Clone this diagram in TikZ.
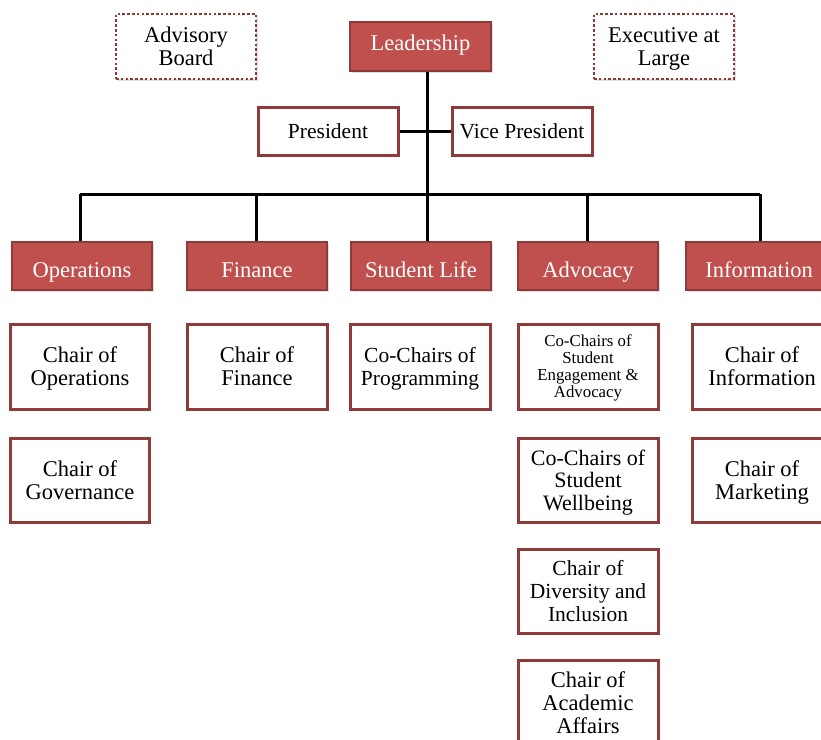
\documentclass[tikz,border=0pt]{standalone}
\usepackage{fontspec}
\setmainfont{Liberation Serif}
\usetikzlibrary{shadows}
\definecolor{boxred}{HTML}{C0504D}
\definecolor{edgered}{HTML}{8E3A38}
\newcommand{\shiftdn}[2]{\raisebox{#1}{#2}}
\begin{document}
\begin{tikzpicture}[x=1pt,y=-1pt,
  base/.style={rectangle, inner sep=0pt, align=center,
    drop shadow={opacity=0.25, shadow xshift=1.5pt, shadow yshift=-2pt},
    font=\fontsize{22.5}{23}\selectfont},
  head/.style={base, fill=boxred, draw=edgered, line width=2.6pt, text=white,
    minimum width=140pt, minimum height=48pt, text height=15pt, text depth=0pt},
  officer/.style={head, fill=white, text=black, line width=3pt,
    font=\fontsize{21.5}{23}\selectfont},
  role/.style={base, fill=white, draw=edgered, line width=3pt,
    minimum width=140pt, minimum height=85pt, text depth=0pt},
  dotbox/.style={base, fill=white, draw=edgered, line width=2.6pt,
    dash pattern=on 2.6pt off 2.2pt,
    minimum width=140pt, minimum height=65pt, text depth=0pt},
  small/.style={font=\fontsize{16.8}{17}\selectfont},
  narrow/.style={font=\fontsize{21.5}{23}\selectfont},
  link/.style={draw=black, line width=3pt}]
\clip (0,0) rectangle (821,739);
\useasboundingbox (0,0) rectangle (821,739);
\fill[white] (0,0) rectangle (821,739);

% top row
\node[dotbox] (adv) at (186,46.5) {Advisory\\Board};
\node[head, minimum width=141pt, minimum height=49pt] (lead) at (420.5,46.5) {\shiftdn{4pt}{Leadership}};
\node[dotbox] (exec) at (664,46.5) {Executive at\\Large};

% trunk coordinates
\coordinate (trunk) at (427,194);
\coordinate (b1) at (80,194);
\coordinate (b2) at (256,194);
\coordinate (b4) at (587,194);
\coordinate (b5) at (760,194);

% officers
\node[officer] (pres) at (328,131) {President};
\node[officer] (vp) at (522,131) {Vice President};

% departments
\node[head] (ops) at (82,266) {\shiftdn{-3.5pt}{Operations}};
\node[head] (fin) at (257,266) {\shiftdn{-3.5pt}{Finance}};
\node[head] (sl) at (421,266) {\shiftdn{-3.5pt}{Student Life}};
\node[head] (advo) at (588,266) {\shiftdn{-3.5pt}{Advocacy}};
\node[head, minimum width=146pt] (info) at (759,266) {\shiftdn{-3.5pt}{Information}};

% connectors
\draw[link] (lead.south -| trunk) -- (trunk);
\draw[link] (pres.east) -- (vp.west);
\draw[link] (b1) -- (b5);
\draw[link] (b1) -- (b1 |- ops.north);
\draw[link] (b2) -- (b2 |- fin.north);
\draw[link] (trunk) -- (trunk |- sl.north);
\draw[link] (b4) -- (b4 |- advo.north);
\draw[link] (b5) -- (b5 |- info.north);

% chairs
\node[role, minimum width=139pt] (cops) at (80,366.5) {Chair of\\Operations};
\node[role] (cfin) at (257,366.5) {Chair of\\Finance};
\node[role, narrow] (cprog) at (420,366.5) {Co-Chairs of\\Programming};
\node[role, small] (ceng) at (588,366.5) {Co-Chairs of\\Student\\Engagement \&\\Advocacy};
\node[role] (cinfo) at (762,366.5) {Chair of\\Information};

\node[role, minimum width=139pt, minimum height=84pt] (cgov) at (80,480) {Chair of\\Governance};
\node[role, minimum height=84pt, font=\fontsize{22}{22.5}\selectfont] (cwell) at (588,480) {Co-Chairs of\\Student\\Wellbeing};
\node[role, minimum height=84pt] (cmark) at (762,480) {Chair of\\Marketing};

\node[role, minimum height=84pt, narrow] (cdiv) at (588,591) {Chair of\\Diversity and\\Inclusion};
\node[role] (cacad) at (588,703) {Chair of\\Academic\\Affairs};
\end{tikzpicture}
\end{document}
